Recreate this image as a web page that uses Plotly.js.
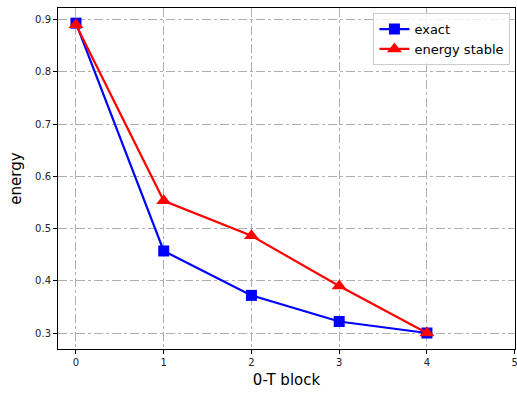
<!DOCTYPE html>
<html><head><meta charset="utf-8">
<script src="https://cdn.plot.ly/plotly-3.0.1.min.js"></script>
<style>html,body{margin:0;padding:0;background:#fff}#chart{width:517px;height:395px}</style>
</head><body><div id="chart"></div>
<script>
const blocks = [0, 1, 2, 3, 4];
const exactEnergy = [0.893, 0.457, 0.372, 0.322, 0.300];
const stableEnergy = [0.890, 0.553, 0.486, 0.390, 0.300];
const xTicks = [0, 1, 2, 3, 4, 5];
const yTicks = [0.3, 0.4, 0.5, 0.6, 0.7, 0.8, 0.9];

const traces = [
  {x: blocks, y: exactEnergy, name: 'exact', mode: 'lines+markers',
   line: {color: '#0000ff', width: 2.2}, marker: {symbol: 'square', size: 11, color: '#0000ff'}},
  {x: blocks, y: stableEnergy, name: 'energy stable', mode: 'lines+markers',
   line: {color: '#ff0000', width: 2.2}, marker: {symbol: 'triangle-up', size: 13, color: '#ff0000'}}
];
const axisCommon = {showline: true, mirror: true, linecolor: '#000', linewidth: 1,
  ticks: 'outside', ticklen: 4, tickcolor: '#000', zeroline: false,
  showgrid: true, gridcolor: '#b0b0b0', griddash: 'dashdot', gridwidth: 1,
  ticklabeloverflow: 'allow',
  tickfont: {family: 'DejaVu Sans', size: 10, color: '#222'}};
const layout = {
  width: 517, height: 395,
  margin: {l: 58, r: 2, t: 8, b: 46},
  paper_bgcolor: '#fff', plot_bgcolor: '#fff',
  font: {family: 'DejaVu Sans', color: '#000'},
  xaxis: Object.assign({}, axisCommon, {range: [-0.205, 5.004], tickvals: xTicks,
    title: {text: '0-T block', font: {size: 15}, standoff: 7}}),
  yaxis: Object.assign({}, axisCommon, {range: [0.2694, 0.922], tickvals: yTicks, ticktext: yTicks.map(v => v.toFixed(1)),
    title: {text: 'energy', font: {size: 15}, standoff: 9}}),
  legend: {x: 0.99, y: 0.985, xanchor: 'right', yanchor: 'top',
    bgcolor: 'rgba(255,255,255,0.8)', bordercolor: '#cccccc', borderwidth: 1,
    font: {size: 13, family: 'DejaVu Sans'}, tracegroupgap: 2},
  showlegend: true
};
Plotly.newPlot('chart', traces, layout, {displayModeBar: false, staticPlot: true});
</script></body></html>
